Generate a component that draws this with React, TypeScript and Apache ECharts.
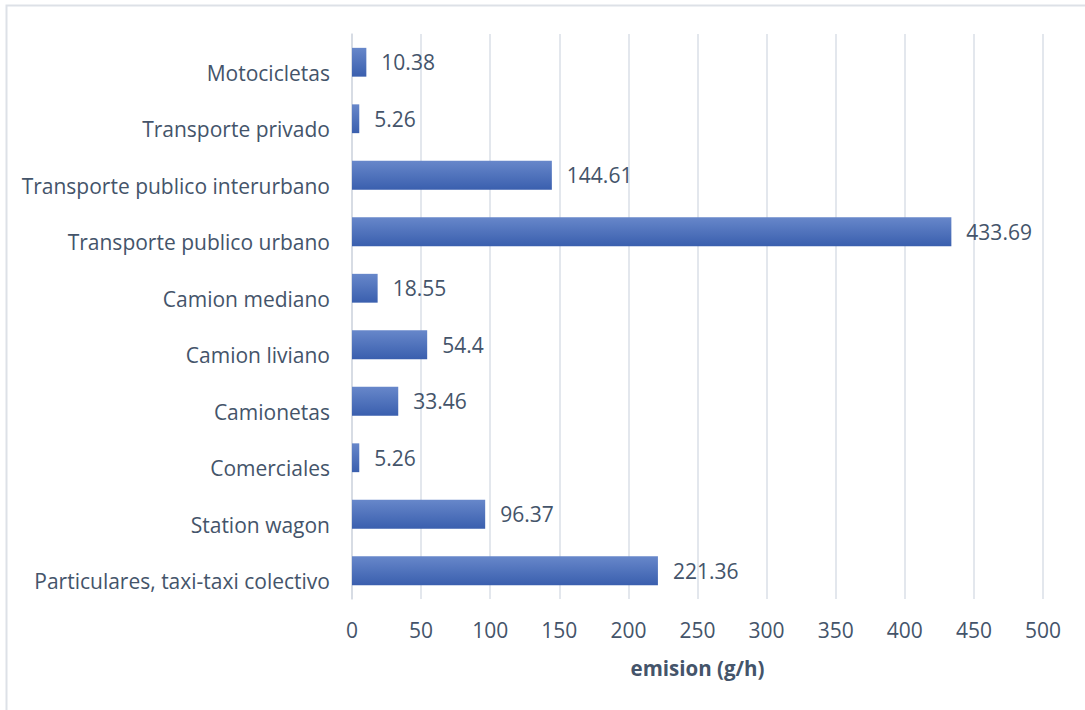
import React, { useEffect, useRef } from "react";
import * as echarts from "echarts";

const categories = [
  "Particulares, taxi-taxi colectivo",
  "Station wagon",
  "Comerciales",
  "Camionetas",
  "Camion liviano",
  "Camion mediano",
  "Transporte publico urbano",
  "Transporte publico interurbano",
  "Transporte privado",
  "Motocicletas",
];
const values = [221.36, 96.37, 5.26, 33.46, 54.4, 18.55, 433.69, 144.61, 5.26, 10.38];
const axisName = "emision (g/h)";

const TEXT = "#44546a";
const FONT = "'Open Sans', sans-serif";

export default function App() {
  const ref = useRef<HTMLDivElement>(null);
  useEffect(() => {
    if (!ref.current) return;
    const chart = echarts.init(ref.current, undefined, { renderer: "svg" });
    chart.setOption({
      animation: false,
      backgroundColor: "#ffffff",
      textStyle: { fontFamily: FONT },
      graphic: [
        {
          type: "rect",
          shape: { x: 6.5, y: 5.5, width: 1100, height: 730 },
          style: { fill: "none", stroke: "#dde1e7", lineWidth: 2 },
          silent: true,
        },
      ],
      grid: { left: 352, right: 42, top: 34, bottom: 111 },
      xAxis: {
        type: "value",
        min: 0,
        max: 500,
        interval: 50,
        name: axisName,
        nameLocation: "middle",
        nameGap: 58,
        nameTextStyle: { color: TEXT, fontSize: 20.5, fontWeight: "bold", fontFamily: FONT },
        axisLine: { show: false },
        axisTick: { show: false },
        axisLabel: { color: TEXT, fontSize: 21, margin: 20, fontFamily: FONT },
        splitLine: { show: true, lineStyle: { color: "#dadfe7", width: 1.5 } },
      },
      yAxis: {
        type: "category",
        data: categories,
        axisLine: { show: true, lineStyle: { color: "#d3d8e0", width: 1.5 } },
        axisTick: { show: false },
        axisLabel: {
          color: TEXT,
          fontSize: 21,
          margin: 22,
          fontFamily: FONT,
          verticalAlign: "top",
          lineHeight: 21,
        },
        splitLine: { show: false },
      },
      series: [
        {
          type: "bar",
          data: values,
          barCategoryGap: "49%",
          itemStyle: {
            color: new echarts.graphic.LinearGradient(0, 0, 0, 1, [
              { offset: 0, color: "#6787ca" },
              { offset: 1, color: "#3a5fae" },
            ]),
          },
          label: {
            show: true,
            position: "right",
            distance: 15,
            color: TEXT,
            fontSize: 21,
            fontFamily: FONT,
          },
        },
      ],
    });
    return () => chart.dispose();
  }, []);
  return (
    <div
      ref={ref}
      style={{ position: "fixed", left: 0, top: 0, width: 1085, height: 710 }}
    />
  );
}
